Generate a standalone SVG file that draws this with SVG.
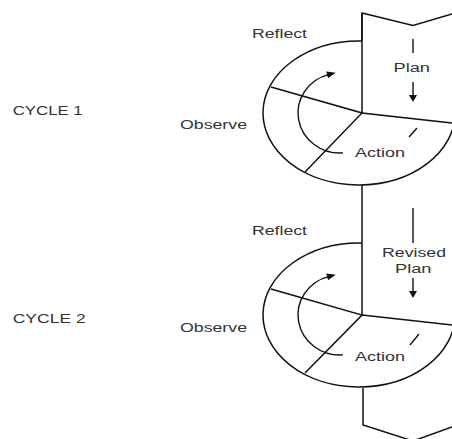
<svg xmlns="http://www.w3.org/2000/svg" width="452" height="439" viewBox="0 0 452 439">
<style>
.ln{fill:none;stroke:#111;stroke-width:1.5;stroke-linejoin:miter}
.thin{fill:none;stroke:#111;stroke-width:1.4}
.t{font-family:"Liberation Sans",Arial,sans-serif;font-size:12px;fill:#333}
</style>
<defs>
<marker id="ah" markerUnits="userSpaceOnUse" markerWidth="10" markerHeight="8" refX="2" refY="3.5" orient="auto">
<path d="M0,0 L9,3.5 L0,7 z" fill="#111"/>
</marker>
</defs>
<rect width="452" height="439" fill="#fff"/>
<g id="connectors">
<path class="ln" d="M362,41 L362,13 L413,25.5 L452,14"/>
<path class="ln" d="M362,185 L362,315"/>
<path class="ln" d="M363,388 L363,425 L413,441 L452,427"/>
</g>
<g id="cycle1">
<path class="ln" d="M362,41 A96,72 0 1 0 455,113"/>
<path class="ln" d="M362,13 L362,113 L452,123"/>
<path class="ln" d="M271,87 L362,113 L305,172"/>
<path class="thin" d="M343,152.9 A42,40 0 0 1 329,74.4" marker-end="url(#ah)"/>
<path class="thin" d="M413,39 L413,53"/>
<path class="thin" d="M413,82 L413,96"/>
<polygon points="409,95 417,95 413,102" fill="#111"/>
<path class="thin" d="M409,137 L417,128"/>
<text class="t" x="252" y="37.5" textLength="55" lengthAdjust="spacingAndGlyphs">Reflect</text>
<text class="t" x="12.7" y="114.5" textLength="70" lengthAdjust="spacingAndGlyphs">CYCLE 1</text>
<text class="t" x="180" y="128.5" textLength="67" lengthAdjust="spacingAndGlyphs">Observe</text>
<text class="t" x="393.5" y="71.5" textLength="36.5" lengthAdjust="spacingAndGlyphs">Plan</text>
<text class="t" x="355" y="156.5" textLength="50" lengthAdjust="spacingAndGlyphs">Action</text>
</g>
<g id="cycle2">
<path class="ln" d="M362,243 A96,72 0 1 0 455,315"/>
<path class="ln" d="M362,315 L452,325"/>
<path class="ln" d="M271,289 L362,315 L305,373"/>
<path class="thin" d="M343,354.9 A42,40 0 0 1 329,276.4" marker-end="url(#ah)"/>
<path class="thin" d="M413,208 L413,243"/>
<path class="thin" d="M413,278 L413,292"/>
<polygon points="409,291 417,291 413,298" fill="#111"/>
<path class="thin" d="M410,345 L419,334"/>
<text class="t" x="252" y="235" textLength="55" lengthAdjust="spacingAndGlyphs">Reflect</text>
<text class="t" x="12.7" y="322.5" textLength="73" lengthAdjust="spacingAndGlyphs">CYCLE 2</text>
<text class="t" x="180" y="331.5" textLength="67" lengthAdjust="spacingAndGlyphs">Observe</text>
<text class="t" x="382" y="256.5" textLength="64" lengthAdjust="spacingAndGlyphs">Revised</text>
<text class="t" x="395" y="272.5" textLength="36.5" lengthAdjust="spacingAndGlyphs">Plan</text>
<text class="t" x="355" y="360.5" textLength="50" lengthAdjust="spacingAndGlyphs">Action</text>
</g>
</svg>
